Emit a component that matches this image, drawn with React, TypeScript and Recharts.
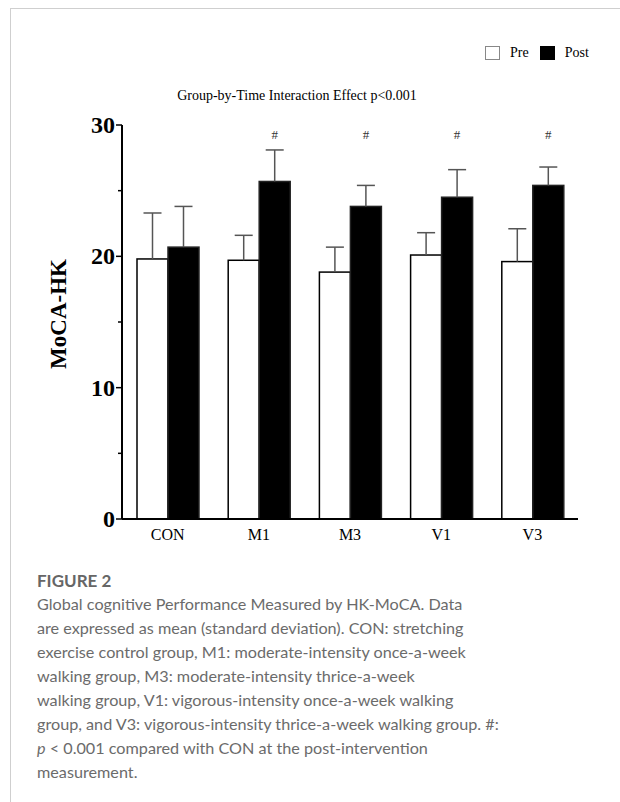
import { BarChart, Bar, XAxis, YAxis, Legend, LabelList } from 'recharts';

const groups = ['CON', 'M1', 'M3', 'V1', 'V3'];
const preMean = [19.8, 19.7, 18.8, 20.1, 19.6];
const preSd = [3.5, 1.9, 1.9, 1.7, 2.5];
const postMean = [20.7, 25.7, 23.8, 24.5, 25.4];
const postSd = [3.1, 2.4, 1.6, 2.1, 1.4];
const sigMark = ['', '#', '#', '#', '#'];
const sigLevel = 28.9;
const yTicks = [0, 5, 10, 15, 20, 25, 30];

const captionLines = [
  'Global cognitive Performance Measured by HK-MoCA. Data',
  'are expressed as mean (standard deviation). CON: stretching',
  'exercise control group, M1: moderate-intensity once-a-week',
  'walking group, M3: moderate-intensity thrice-a-week',
  'walking group, V1: vigorous-intensity once-a-week walking',
  'group, and V3: vigorous-intensity thrice-a-week walking group. #:',
];

const data = groups.map((g, i) => ({
  group: g,
  pre: preMean[i],
  preSd: preSd[i],
  post: postMean[i],
  postSd: postSd[i],
  mark: sigMark[i],
}));

const serif = '"Liberation Serif", "Times New Roman", serif';

// bar rect plus an upward-only SD whisker
const makeShape = (meanKey: string, sdKey: string, fill: string, stroke: string) => (props: any) => {
  const { x, y, width, height, payload } = props;
  const mean = payload[meanKey];
  const pxPerUnit = height / mean;
  const top = y - payload[sdKey] * pxPerUnit;
  const cx = x + width / 2;
  return (
    <g>
      <rect x={x} y={y} width={width} height={height} fill={fill} stroke={stroke} strokeWidth={1.5} />
      <line x1={cx} x2={cx} y1={y} y2={top} stroke="#555" strokeWidth={1.5} />
      <line x1={cx - 9} x2={cx + 9} y1={top} y2={top} stroke="#555" strokeWidth={1.5} />
    </g>
  );
};

const YTick = (props: any) => {
  const { x, y, payload } = props;
  const major = payload.value % 10 === 0;
  return (
    <g>
      <line x1={x - (major ? 6 : 4)} x2={x} y1={y} y2={y} stroke="#000" strokeWidth={1.5} />
      {major && (
        <text x={x - 7} y={y} dy={8} textAnchor="end" fontFamily={serif} fontWeight="bold" fontSize={24} fill="#000">
          {payload.value}
        </text>
      )}
    </g>
  );
};

const SigLabel = (props: any) => {
  const { x, y, width, height, value, index } = props;
  if (!value) return null;
  const pxPerUnit = height / postMean[index];
  const ty = y + height - sigLevel * pxPerUnit;
  return (
    <text x={x + width / 2} y={ty} textAnchor="middle" fontFamily={serif} fontSize={13} fill="#333">
      {value}
    </text>
  );
};

const LegendBox = () => (
  <div style={{ display: 'flex', alignItems: 'center', fontFamily: serif, fontSize: 14, color: '#000' }}>
    <span style={{ width: 13, height: 12, border: '1.5px solid #888', background: '#fff', display: 'inline-block' }} />
    <span style={{ marginLeft: 10, marginRight: 11 }}>Pre</span>
    <span style={{ width: 15, height: 14, background: '#000', display: 'inline-block' }} />
    <span style={{ marginLeft: 10 }}>Post</span>
  </div>
);

export default function App() {
  return (
    <div style={{ position: 'absolute', left: 0, top: 0, width: 620, height: 802, overflow: 'hidden', background: '#fff' }}>
      <div style={{ position: 'absolute', left: 10, top: 8, width: 700, height: 900, border: '1px solid #cfcfcf' }} />
      <div
        style={{
          position: 'absolute',
          top: 88,
          left: 160,
          width: 274,
          textAlign: 'center',
          fontFamily: serif,
          fontSize: 14,
          color: '#000',
        }}
      >
        Group-by-Time Interaction Effect p&lt;0.001
      </div>
      <div style={{ position: 'absolute', left: 0, top: 0 }}>
        <BarChart
          width={620}
          height={560}
          data={data}
          margin={{ top: 125, right: 42, bottom: 11, left: 52 }}
          barCategoryGap={15}
          barGap={0}
        >
          <XAxis
            dataKey="group"
            height={30}
            tickLine={false}
            tickSize={0}
            tickMargin={10}
            axisLine={{ stroke: '#000', strokeWidth: 2 }}
            tick={{ fontFamily: serif, fontSize: 16, fill: '#000' }}
          />
          <YAxis
            width={70}
            domain={[0, 30]}
            ticks={yTicks}
            interval={0}
            tickLine={false}
            tickSize={0}
            tickMargin={0}
            axisLine={{ stroke: '#000', strokeWidth: 2 }}
            tick={<YTick />}
            label={{
              content: (p: any) => {
                const vb = p.viewBox;
                const cx = vb.x + 14;
                const cy = vb.y + vb.height / 2 - 8;
                return (
                  <text
                    transform={`translate(${cx},${cy}) rotate(-90)`}
                    textAnchor="middle"
                    fontFamily={serif}
                    fontWeight="bold"
                    fontSize={23}
                    fill="#000"
                  >
                    MoCA-HK
                  </text>
                );
              },
            }}
          />
          <Legend
            layout="vertical"
            align="center"
            verticalAlign="middle"
            wrapperStyle={{ top: 45, left: 485, width: 120 }}
            content={() => <LegendBox />}
          />
          <Bar dataKey="pre" name="Pre" fill="#fff" isAnimationActive={false} shape={makeShape('pre', 'preSd', '#fff', '#000')} />
          <Bar dataKey="post" name="Post" fill="#000" isAnimationActive={false} shape={makeShape('post', 'postSd', '#000', '#222')}>
            <LabelList dataKey="mark" content={<SigLabel />} />
          </Bar>
        </BarChart>
      </div>
      <div style={{ position: 'absolute', left: 37, top: 569, fontFamily: 'Lato, "Open Sans", sans-serif', color: '#6b6b6b' }}>
        <div style={{ fontSize: 17, fontWeight: 700, lineHeight: '23px', color: '#666' }}>FIGURE 2</div>
        <div style={{ fontSize: 16.2, lineHeight: '24px', whiteSpace: 'nowrap' }}>
          {captionLines.map((l) => (
            <div key={l}>{l}</div>
          ))}
          <div>
            <i>p</i> &lt; 0.001 compared with CON at the post-intervention
          </div>
          <div>measurement.</div>
        </div>
      </div>
    </div>
  );
}
